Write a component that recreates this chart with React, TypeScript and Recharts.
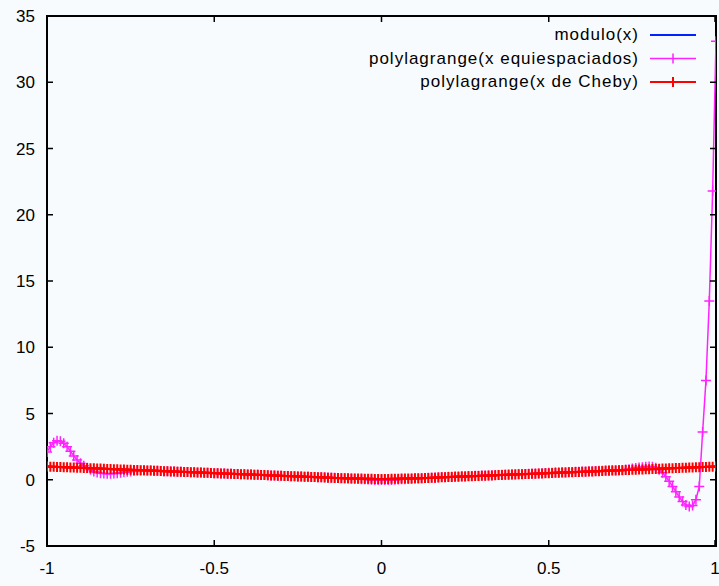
import { Legend, Line, LineChart, ReferenceArea, XAxis, YAxis } from 'recharts';

// sample abscissas, -1 .. 1 step 0.01 (201 points)
const xs = Array.from({ length: 201 }, (_, i) => Math.round((-1 + i * 0.01) * 100) / 100);

const xTicks = [-1, -0.5, 0, 0.5, 1];
const yTicks = [-5, 0, 5, 10, 15, 20, 25, 30, 35];

// modulo(x) – drawn as plain line
const moduloX = [-1, 0, 1];
const moduloY = [1, 0, 1];

// polylagrange(x equiespaciados)
const equiY = [
  2.1, 2.5, 2.8, 2.95, 2.9, 2.75, 2.5, 2.15, 1.8, 1.5,
  1.25, 1.05, 0.9, 0.75, 0.62, 0.55, 0.5, 0.47, 0.46, 0.46,
  0.48, 0.5, 0.53, 0.56, 0.6, 0.63, 0.66, 0.68, 0.7, 0.7,
  0.7, 0.69, 0.68, 0.67, 0.66, 0.65, 0.64, 0.63, 0.62, 0.61,
  0.6, 0.59, 0.58, 0.57, 0.56, 0.55, 0.54, 0.53, 0.52, 0.51,
  0.5, 0.49, 0.48, 0.47, 0.46, 0.45, 0.44, 0.43, 0.42, 0.41,
  0.4, 0.39, 0.38, 0.37, 0.36, 0.35, 0.34, 0.33, 0.32, 0.31,
  0.3, 0.29, 0.28, 0.27, 0.26, 0.25, 0.24, 0.23, 0.22, 0.21,
  0.2, 0.19, 0.19, 0.18, 0.17, 0.16, 0.15, 0.14, 0.13, 0.12,
  0.1, 0.09, 0.07, 0.06, 0.04, 0.03, 0.02, 0.0, -0.01, -0.02,
  -0.02,
  -0.02, -0.02, -0.01, 0.0, 0.01, 0.03, 0.04, 0.06, 0.07, 0.09,
  0.1, 0.12, 0.13, 0.15, 0.16, 0.17, 0.19, 0.2, 0.21, 0.22,
  0.23, 0.24, 0.25, 0.26, 0.27, 0.28, 0.29, 0.3, 0.31, 0.32,
  0.33, 0.33, 0.34, 0.35, 0.36, 0.37, 0.38, 0.39, 0.4, 0.41,
  0.42, 0.43, 0.44, 0.45, 0.46, 0.47, 0.48, 0.5, 0.51, 0.52,
  0.53, 0.54, 0.55, 0.56, 0.57, 0.58, 0.59, 0.6, 0.61, 0.62,
  0.63, 0.64, 0.65, 0.66, 0.67, 0.68, 0.7, 0.71, 0.72, 0.72,
  0.72, 0.74, 0.77, 0.8, 0.84, 0.88, 0.92, 0.95, 0.98, 1.0,
  0.98, 0.9, 0.75, 0.52, 0.22, -0.12, -0.5, -0.9, -1.3, -1.65,
  -1.9, -2.02, -1.95, -1.5, -0.5, 3.6, 7.5, 13.5, 21.8, 33.1,
];

// polylagrange(x de Cheby)
const chebyY = [
  1.0, 0.99, 0.98, 0.97, 0.96, 0.95, 0.94, 0.93, 0.92, 0.91,
  0.9, 0.89, 0.88, 0.87, 0.86, 0.85, 0.84, 0.83, 0.82, 0.81,
  0.8, 0.79, 0.78, 0.77, 0.76, 0.75, 0.74, 0.73, 0.72, 0.71,
  0.7, 0.69, 0.68, 0.67, 0.66, 0.65, 0.64, 0.63, 0.62, 0.61,
  0.6, 0.59, 0.58, 0.57, 0.56, 0.55, 0.54, 0.53, 0.52, 0.51,
  0.5, 0.49, 0.48, 0.47, 0.46, 0.45, 0.44, 0.43, 0.42, 0.41,
  0.4, 0.39, 0.38, 0.37, 0.36, 0.35, 0.34, 0.33, 0.32, 0.31,
  0.3, 0.29, 0.28, 0.27, 0.26, 0.25, 0.24, 0.23, 0.22, 0.21,
  0.2, 0.19, 0.18, 0.17, 0.16, 0.15, 0.14, 0.13, 0.12, 0.115,
  0.11, 0.1, 0.095, 0.09, 0.085, 0.08, 0.075, 0.07, 0.065, 0.06,
  0.06,
  0.06, 0.065, 0.07, 0.075, 0.08, 0.085, 0.09, 0.095, 0.1, 0.11,
  0.115, 0.12, 0.13, 0.14, 0.15, 0.16, 0.17, 0.18, 0.19, 0.2,
  0.21, 0.22, 0.23, 0.24, 0.25, 0.26, 0.27, 0.28, 0.29, 0.3,
  0.31, 0.32, 0.33, 0.34, 0.35, 0.36, 0.37, 0.38, 0.39, 0.4,
  0.41, 0.42, 0.43, 0.44, 0.45, 0.46, 0.47, 0.48, 0.49, 0.5,
  0.51, 0.52, 0.53, 0.54, 0.55, 0.56, 0.57, 0.58, 0.59, 0.6,
  0.61, 0.62, 0.63, 0.64, 0.65, 0.66, 0.67, 0.68, 0.69, 0.7,
  0.71, 0.72, 0.73, 0.74, 0.75, 0.76, 0.77, 0.78, 0.79, 0.8,
  0.81, 0.82, 0.83, 0.84, 0.85, 0.86, 0.87, 0.88, 0.89, 0.9,
  0.91, 0.92, 0.93, 0.94, 0.95, 0.96, 0.97, 0.98, 0.99, 1.0,
];

const BLUE = '#0022ff';
const MAGENTA = '#ff22ff';
const RED = '#ff0000';
const FONT = '"Liberation Sans", Arial, sans-serif';

const W = 719;
const H = 586;
const MARGIN = { top: 16, right: 3, bottom: 0, left: 0 };
const Y_AXIS_W = 47;
const X_AXIS_H = 40;
const PLOT_W = W - MARGIN.left - MARGIN.right - Y_AXIS_W;
const PLOT_H = H - MARGIN.top - MARGIN.bottom - X_AXIS_H;
const TICK = 6;

const moduloData = moduloX.map((x, i) => ({ x, y: moduloY[i] }));
const equiData = xs.map((x, i) => ({ x, y: equiY[i] }));
const chebyData = xs.map((x, i) => ({ x, y: chebyY[i] }));

function plusDot(color: string, width: number) {
  return (props: any) => {
    const { cx, cy, index } = props;
    if (cx == null || cy == null) return <g key={index} />;
    return (
      <path
        key={index}
        d={`M${cx - 5},${cy}h10M${cx},${cy - 5}v10`}
        stroke={color}
        strokeWidth={width}
        fill="none"
      />
    );
  };
}

// gnuplot style: label outside, tick mark inward, mirrored on the opposite side
function XTick(props: any) {
  const { x, y, payload } = props;
  return (
    <g>
      <path
        d={`M${x},${y}v${-TICK}M${x},${y - PLOT_H}v${TICK}`}
        stroke="#000"
        strokeWidth={1.5}
        fill="none"
      />
      <text x={x} y={y + 28} textAnchor="middle" fontSize={17} fontFamily={FONT} fill="#000">
        {payload.value}
      </text>
    </g>
  );
}

function YTick(props: any) {
  const { x, y, payload } = props;
  return (
    <g>
      <path
        d={`M${x},${y}h${TICK}M${x + PLOT_W},${y}h${-TICK}`}
        stroke="#000"
        strokeWidth={1.5}
        fill="none"
      />
      <text x={x - 12} y={y + 6} textAnchor="end" fontSize={17} fontFamily={FONT} fill="#000">
        {payload.value}
      </text>
    </g>
  );
}

const legendRows = [
  { label: 'modulo(x)', color: BLUE, width: 2, marker: false },
  { label: 'polylagrange(x equiespaciados)', color: MAGENTA, width: 1.5, marker: true },
  { label: 'polylagrange(x de Cheby)', color: RED, width: 2, marker: true },
];

function renderLegend() {
  return (
    <svg width={350} height={80}>
      {legendRows.map((r, i) => {
        const y = 15 + i * 23.5;
        return (
          <g key={r.label}>
            <text
              x={279}
              y={y + 5}
              textAnchor="end"
              fontSize={17}
              fontFamily={FONT}
              letterSpacing={1}
              fill="#000"
            >
              {r.label}
            </text>
            <line x1={290} x2={336} y1={y} y2={y} stroke={r.color} strokeWidth={r.width} />
            {r.marker && (
              <line x1={313} x2={313} y1={y - 5} y2={y + 5} stroke={r.color} strokeWidth={r.width} />
            )}
          </g>
        );
      })}
    </svg>
  );
}

export default function App() {
  const [xMin, xMax] = [xTicks[0], xTicks[xTicks.length - 1]];
  const [yMin, yMax] = [yTicks[0], yTicks[yTicks.length - 1]];
  return (
    <div style={{ position: 'absolute', left: 0, top: 0, width: W, height: H, background: '#f8fbfd' }}>
      <LineChart width={W} height={H} margin={MARGIN}>
        <XAxis
          xAxisId="bottom"
          type="number"
          dataKey="x"
          domain={[xMin, xMax]}
          ticks={xTicks}
          height={X_AXIS_H}
          tick={<XTick />}
          tickSize={0}
          tickMargin={0}
          axisLine={false}
          tickLine={false}
          allowDataOverflow
        />
        <YAxis
          yAxisId="left"
          type="number"
          domain={[yMin, yMax]}
          ticks={yTicks}
          width={Y_AXIS_W}
          tick={<YTick />}
          tickSize={0}
          tickMargin={0}
          axisLine={false}
          tickLine={false}
          allowDataOverflow
        />
        <ReferenceArea
          xAxisId="bottom"
          yAxisId="left"
          x1={xMin}
          x2={xMax}
          y1={yMin}
          y2={yMax}
          fill="none"
          fillOpacity={0}
          stroke="#000"
          strokeWidth={2}
          strokeOpacity={1}
          ifOverflow="visible"
        />
        <Legend
          layout="vertical"
          align="center"
          verticalAlign="middle"
          content={renderLegend}
          wrapperStyle={{ top: 20, left: 360, width: 350, height: 80 }}
        />
        <Line
          xAxisId="bottom"
          yAxisId="left"
          data={moduloData}
          dataKey="y"
          type="linear"
          stroke={BLUE}
          strokeWidth={2}
          dot={false}
          isAnimationActive={false}
        />
        <Line
          xAxisId="bottom"
          yAxisId="left"
          data={equiData}
          dataKey="y"
          type="linear"
          stroke={MAGENTA}
          strokeWidth={1.5}
          dot={plusDot(MAGENTA, 1.5)}
          isAnimationActive={false}
        />
        <Line
          xAxisId="bottom"
          yAxisId="left"
          data={chebyData}
          dataKey="y"
          type="linear"
          stroke={RED}
          strokeWidth={2}
          dot={plusDot(RED, 2)}
          isAnimationActive={false}
        />
      </LineChart>
    </div>
  );
}
